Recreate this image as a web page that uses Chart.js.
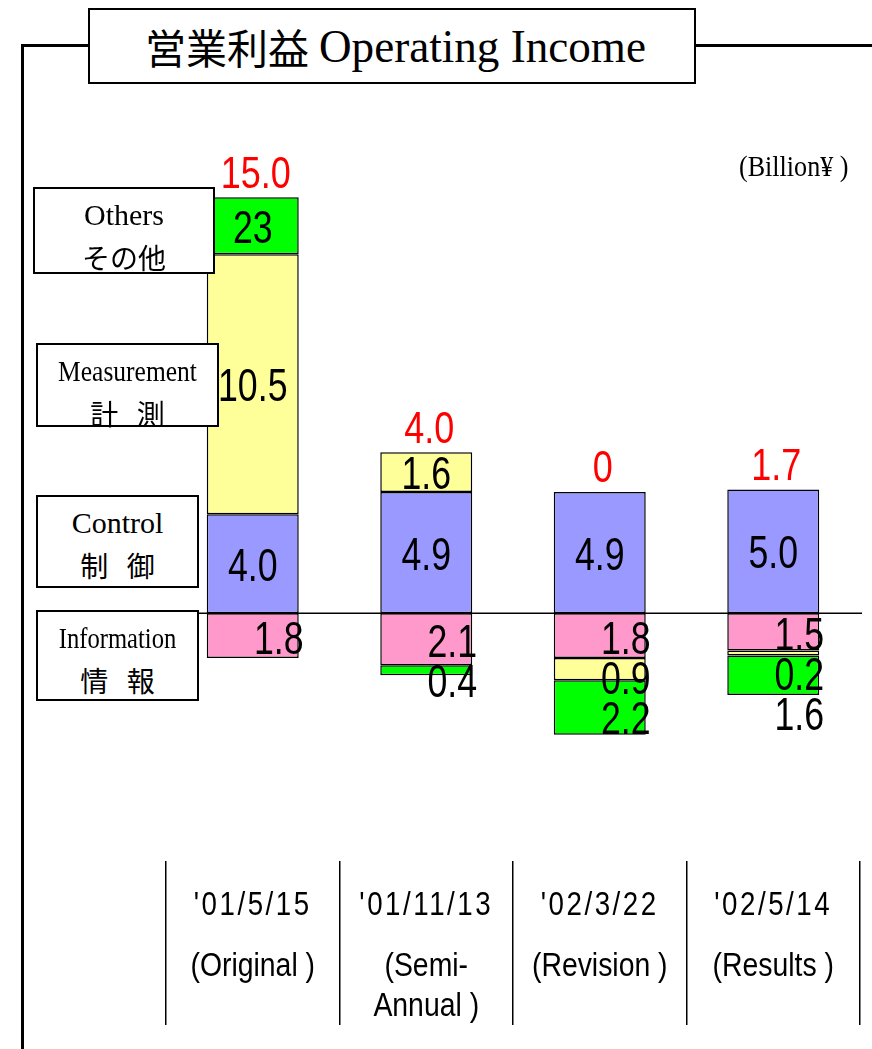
<!DOCTYPE html>
<html>
<head>
<meta charset="utf-8">
<script src="https://cdn.jsdelivr.net/npm/chart.js@4.4.1/dist/chart.umd.min.js"></script>
<style>
	body { margin: 0; background: #fff; }
	#wrap { position: relative; width: 872px; height: 1049px; overflow: hidden; background: #fff; }
	#chart { position: absolute; left: 0; top: 0; }
	.rule { position: absolute; background: #000; }
	.title {
		position: absolute; left: 88px; top: 8px; width: 608px; height: 76px;
		border: 2px solid #000; background: #fff; white-space: nowrap;
		line-height: 72px; text-align: left; padding-left: 55px; box-sizing: border-box;
	}
	.title .jp { font-family: 'Noto Sans CJK JP', sans-serif; font-size: 41px; vertical-align: top; }
	.title .en {
		display: inline-block; font-family: 'Liberation Serif', serif; font-size: 47px;
		transform: scaleX(0.96); transform-origin: left center; margin-left: 10px;
	}
	.unit {
		position: absolute; left: 739px; top: 150px; font-family: 'Liberation Serif', serif;
		font-size: 29px; transform: scaleX(0.9); transform-origin: left center; white-space: nowrap;
	}
	.key {
		position: absolute; border: 2px solid #000; background: #fff; text-align: center;
		line-height: 43px; padding-top: 4px; box-sizing: border-box; white-space: nowrap;
	}
	.key .en { display: block; font-family: 'Liberation Serif', serif; font-size: 30px; }
	.key .jp { display: block; font-family: 'Noto Sans CJK JP', sans-serif; font-size: 28px; word-spacing: 12px; }
</style>
</head>
<body>
<div id="wrap">
	<canvas id="chart" width="872" height="1049"></canvas>
	<div class="rule" style="left:21px; top:44px; width:3px; height:1010px;"></div>
	<div class="rule" style="left:21px; top:44px; width:68px; height:3px;"></div>
	<div class="rule" style="left:694px; top:44px; width:178px; height:3px;"></div>
	<div class="title"><span class="jp">営業利益</span><span class="en">Operating Income</span></div>
	<div class="unit">(Billion¥ )</div>
	<div class="key" style="left:33px; top:187px; width:182px; height:87px;"><span class="en">Others</span><span class="jp">その他</span></div>
	<div class="key" style="left:36px; top:343px; width:183px; height:84px;"><span class="en" style="transform:scaleX(0.85)">Measurement</span><span class="jp">計 測</span></div>
	<div class="key" style="left:36px; top:495px; width:163px; height:93px;"><span class="en">Control</span><span class="jp">制 御</span></div>
	<div class="key" style="left:36px; top:610px; width:163px; height:91px;"><span class="en" style="transform:scaleX(0.82)">Information</span><span class="jp">情 報</span></div>
</div>
<script>
const categories = [
	["'01/5/15", '(Original )'],
	["'01/11/13", '(Semi-', 'Annual )'],
	["'02/3/22", '(Revision )'],
	["'02/5/14", '(Results )'],
];
const information = [-1.8, -2.1, -1.8, -1.5];
const control = [4.0, 4.9, 4.9, 5.0];
const measurement = [10.5, 1.6, -0.9, -0.2];
const others = [2.3, -0.4, -2.2, -1.6];
// the original slide prints the first "Others" figure as "23"
const othersShown = ['23', null, null, null];
const yMin = -10;
const yMax = 20;

const black = '#000000';
const red = '#ff0000';

function narrowText(ctx, text, x, y, size, squeeze, color, spacing) {
	ctx.save();
	ctx.translate(x, y);
	ctx.scale(squeeze, 1);
	ctx.font = size + 'px "Liberation Sans", Arial, sans-serif';
	ctx.letterSpacing = (spacing || 0) + 'px';
	ctx.fillStyle = color;
	ctx.textAlign = 'center';
	ctx.textBaseline = 'middle';
	ctx.fillText(text, 0, 0);
	ctx.restore();
}

const barLabels = {
	id: 'barLabels',
	beforeDatasetsDraw(chart) {
		const { ctx, chartArea, scales } = chart;
		const y0 = scales.y.getPixelForValue(0);
		ctx.save();
		ctx.strokeStyle = black;
		ctx.lineWidth = 1.5;
		ctx.beginPath();
		ctx.moveTo(chartArea.left, y0);
		ctx.lineTo(chartArea.right + 2, y0);
		ctx.stroke();
		ctx.restore();
	},
	afterDatasetsDraw(chart) {
		const ctx = chart.ctx;
		chart.data.labels.forEach((_, i) => {
			let top = Infinity;
			let lastNeg = -Infinity;
			let total = 0;
			let cx = 0;
			chart.data.datasets.forEach((ds, d) => {
				const bar = chart.getDatasetMeta(d).data[i];
				const v = ds.data[i];
				const mid = (bar.y + bar.base) / 2;
				const text = (ds.shown && ds.shown[i]) || Math.abs(v).toFixed(1);
				total += v;
				cx = bar.x;
				if (v >= 0) {
					top = Math.min(top, bar.y);
					narrowText(ctx, text, bar.x, mid + 4, 47, 0.76, black);
				} else {
					// negative figures sit right of centre and stack downwards
					const y = Math.max(mid + 5, lastNeg + 40);
					lastNeg = y;
					narrowText(ctx, text, bar.x + 26, y, 47, 0.76, black);
				}
			});
			const t = Math.abs(total) < 0.05 ? '0' : total.toFixed(1);
			narrowText(ctx, t, cx + 3, top - 22, 45, 0.8, red);
		});
	},
	afterDraw(chart) {
		const { ctx, chartArea, scales } = chart;
		chart.data.labels.forEach((lines, i) => {
			const x = scales.x.getPixelForValue(i);
			lines.forEach((line, k) => {
				if (k === 0) {
					narrowText(ctx, line, x, chartArea.bottom + 45, 33, 0.84, black, 3);
				} else {
					narrowText(ctx, line, x, chartArea.bottom + 106 + (k - 1) * 40, 33, 0.86, black);
				}
			});
		});
	},
};

const barStyle = {
	borderColor: black,
	borderWidth: 1.5,
	borderSkipped: false,
	barPercentage: 0.53,
	categoryPercentage: 1,
};

new Chart(document.getElementById('chart'), {
	type: 'bar',
	data: {
		labels: categories,
		datasets: [
			{ label: 'Information', data: information, backgroundColor: '#ff99cc', ...barStyle },
			{ label: 'Control', data: control, backgroundColor: '#9999ff', ...barStyle },
			{ label: 'Measurement', data: measurement, backgroundColor: '#ffff99', ...barStyle },
			{ label: 'Others', data: others, shown: othersShown, backgroundColor: '#00ff00', ...barStyle },
		],
	},
	plugins: [barLabels],
	options: {
		responsive: false,
		animation: false,
		layout: {
			padding: { left: 166, right: 12, top: 118, bottom: 24 },
		},
		plugins: {
			legend: { display: false },
			tooltip: { enabled: false },
		},
		scales: {
			x: {
				stacked: true,
				border: { display: false },
				grid: {
					offset: true,
					drawOnChartArea: false,
					drawTicks: true,
					tickLength: 164,
					color: black,
					lineWidth: 1.5,
				},
				ticks: { display: false },
			},
			y: {
				stacked: true,
				display: false,
				min: yMin,
				max: yMax,
			},
		},
	},
});
</script>
</body>
</html>
